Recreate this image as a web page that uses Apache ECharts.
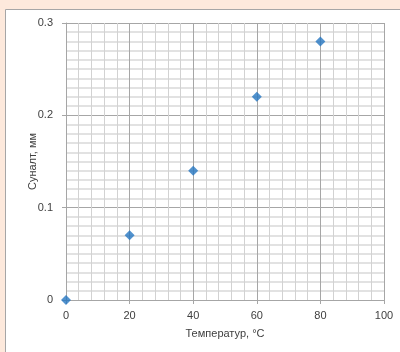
<!DOCTYPE html>
<html>
<head>
<meta charset="utf-8">
<script src="https://cdn.jsdelivr.net/npm/echarts@6/dist/echarts.min.js"></script>
<style>
  html, body { margin: 0; padding: 0; background: #fde9dc; }
  #main { width: 400px; height: 352px; }
</style>
</head>
<body>
<div id="main"></div>
<script>
// temperature (°C) vs elongation (mm)
const temps = [0, 20, 40, 60, 80];
const elong = [0, 0.07, 0.14, 0.22, 0.28];

const points = temps.map((t, i) => [t, elong[i]]);

const chart = echarts.init(document.getElementById('main'));
chart.setOption({
    backgroundColor: '#fde9dc',
    animation: false,
    graphic: [{
        type: 'rect',
        shape: { x: 5.5, y: 9.5, width: 420, height: 360 },
        style: { fill: '#ffffff', stroke: '#a6a6a6', lineWidth: 1 },
        z: -10
    }],
    grid: { left: 66, right: 16, top: 23, bottom: 52 },
    xAxis: {
        type: 'value',
        min: 0, max: 100, interval: 20,
        name: 'Температур, °C',
        nameLocation: 'middle',
        nameGap: 28,
        nameMoveOverlap: false,
        nameTextStyle: { color: '#404040', fontSize: 11, fontFamily: 'Liberation Sans' },
        axisLine: { show: true, lineStyle: { color: '#a6a6a6' } },
        axisTick: { show: true, length: 4, lineStyle: { color: '#a6a6a6' } },
        axisLabel: { color: '#404040', fontSize: 11, fontFamily: 'Liberation Sans', margin: 10 },
        splitLine: { show: true, lineStyle: { color: '#a6a6a6' } },
        minorTick: { show: false, splitNumber: 5 },
        minorSplitLine: { show: true, lineStyle: { color: '#d2d2d2' } }
    },
    yAxis: {
        type: 'value',
        min: 0, max: 0.3, interval: 0.1,
        name: 'Суналт, мм',
        nameLocation: 'middle',
        nameGap: 28,
        nameMoveOverlap: false,
        nameTextStyle: { color: '#404040', fontSize: 11, fontFamily: 'Liberation Sans' },
        axisLine: { show: true, lineStyle: { color: '#a6a6a6' } },
        axisTick: { show: true, length: 4, lineStyle: { color: '#a6a6a6' } },
        axisLabel: { color: '#404040', fontSize: 11, fontFamily: 'Liberation Sans', margin: 13 },
        splitLine: { show: true, lineStyle: { color: '#a6a6a6' } },
        minorTick: { show: false, splitNumber: 10 },
        minorSplitLine: { show: true, lineStyle: { color: '#d9d9d9', width: 1.5 } }
    },
    series: [{
        type: 'scatter',
        data: points,
        symbol: 'diamond',
        symbolSize: 10,
        itemStyle: { color: '#2677c2' }
    }]
});
</script>
</body>
</html>
